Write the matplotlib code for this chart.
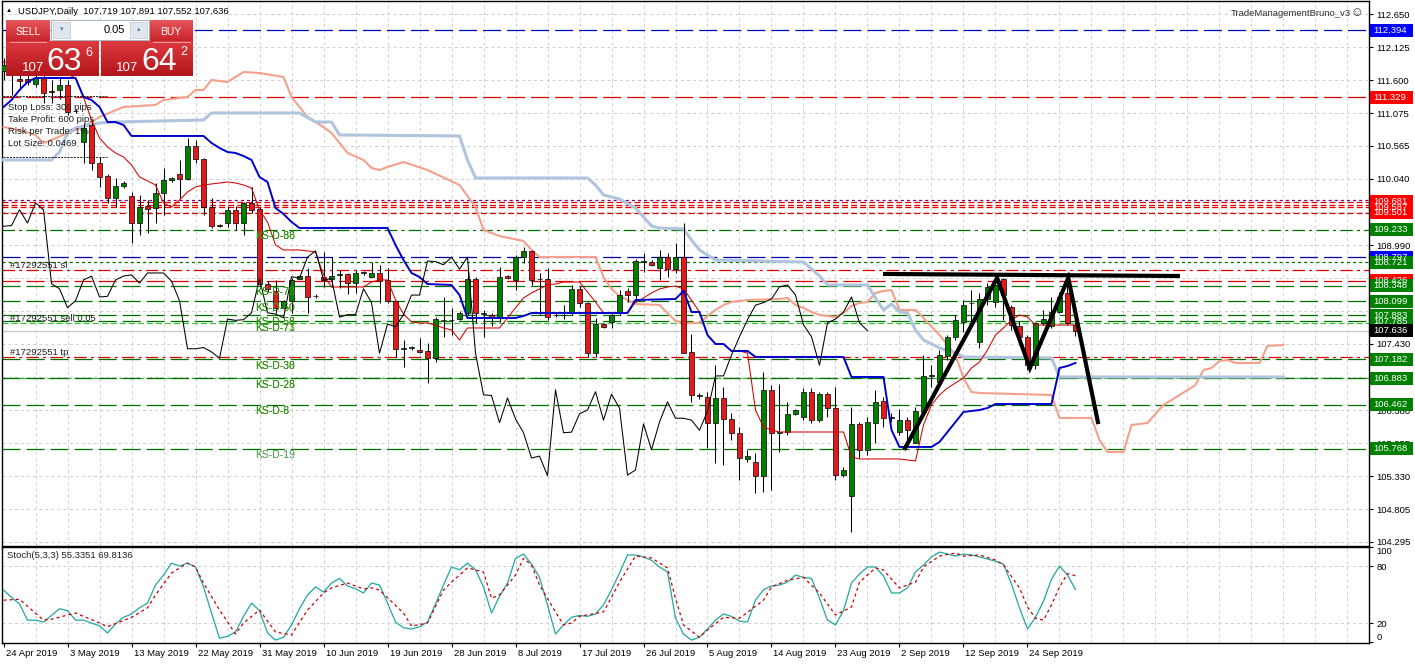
import numpy as np
import matplotlib
matplotlib.use('Agg')
import matplotlib.pyplot as plt
import matplotlib.transforms as mtransforms
from matplotlib.patches import Rectangle
from matplotlib.colors import LinearSegmentedColormap

plt.rcParams['font.family'] = ['Liberation Sans', 'DejaVu Sans']
plt.rcParams['lines.scale_dashes'] = False

# ---- daily candles, one per bar (bar 0 = 24 Apr 2019) ----
opens = [111.75, 111.85, 111.62, 111.62, 111.54, 111.64, 111.43, 111.45, 111.53, 111.12,
         110.62, 110.89, 110.29, 110.09, 109.74, 109.93, 109.77, 109.34, 109.61, 109.58,
         109.82, 110.02, 110.12, 110.04, 110.56, 110.36, 109.60, 109.31, 109.34, 109.55,
         109.34, 109.66, 109.56, 108.38, 108.27, 108.00, 108.11, 108.46, 108.50, 108.19,
         108.49, 108.45, 108.52, 108.53, 108.39, 108.55, 108.49, 108.55, 108.44, 108.11,
         107.35, 107.36, 107.33, 107.32, 107.20, 107.81, 107.80, 107.82, 107.92, 108.46,
         107.90, 107.89, 107.84, 108.50, 108.44, 108.80, 108.90, 108.45, 108.46, 107.88,
         107.88, 107.92, 108.30, 108.08, 107.28, 107.74, 107.77, 107.92, 108.27, 108.20,
         108.72, 108.72, 108.63, 108.80, 108.61, 108.80, 107.30, 106.60, 106.59, 106.18,
         106.57, 106.24, 106.02, 105.60, 105.56, 105.34, 106.70, 106.02, 106.03, 106.32,
         106.27, 106.67, 106.22, 106.63, 106.41, 105.35, 105.02, 106.16, 105.75, 106.18,
         106.52, 106.26, 106.03, 106.22, 105.86, 106.35, 106.92, 106.82, 107.24, 107.54,
         107.77, 108.07, 107.46, 108.14, 108.09, 108.46, 108.01, 107.71, 107.54, 107.09,
         107.76, 107.71, 107.93, 108.23, 107.719]
highs = [111.95, 111.95, 111.75, 111.75, 111.75, 111.70, 111.61, 111.64, 111.61, 111.15,
         110.93, 110.97, 110.39, 110.11, 110.05, 110.00, 109.83, 109.79, 109.71, 109.98,
         110.21, 110.07, 110.34, 110.69, 110.66, 110.37, 109.74, 109.33, 109.61, 109.61,
         109.67, 109.91, 109.60, 108.42, 108.44, 108.12, 108.47, 108.52, 108.63, 108.22,
         108.88, 108.80, 108.60, 108.55, 108.60, 108.58, 108.72, 108.68, 108.63, 108.12,
         107.49, 107.40, 107.52, 107.44, 107.85, 108.17, 107.99, 107.95, 108.60, 108.49,
         107.96, 107.92, 108.65, 108.52, 108.84, 108.96, 108.91, 108.55, 108.63, 107.91,
         108.04, 108.36, 108.35, 108.09, 107.84, 107.76, 107.92, 108.28, 108.31, 108.77,
         108.87, 108.75, 108.91, 108.87, 109.02, 109.34, 107.58, 106.65, 106.67, 107.09,
         106.75, 106.33, 106.11, 105.74, 105.70, 106.98, 106.78, 106.79, 106.51, 106.40,
         106.73, 106.73, 106.67, 106.67, 106.75, 105.48, 106.43, 106.19, 106.27, 106.70,
         106.59, 106.33, 106.40, 106.27, 106.43, 107.25, 107.09, 107.33, 107.57, 107.88,
         108.12, 108.28, 108.23, 108.39, 108.47, 108.47, 108.04, 107.79, 107.57, 107.77,
         107.96, 108.17, 108.25, 108.39, 107.891]
lows = [111.60, 111.37, 111.45, 111.52, 111.50, 111.24, 111.24, 111.30, 111.05, 111.08,
        110.29, 110.18, 109.91, 109.66, 109.59, 109.90, 109.03, 109.15, 109.18, 109.34,
        109.47, 109.99, 109.74, 110.02, 110.29, 109.47, 109.26, 109.28, 109.28, 109.23,
        109.15, 109.50, 108.33, 108.25, 107.92, 107.96, 107.92, 108.45, 107.92, 108.15,
        108.33, 108.33, 108.31, 108.22, 108.24, 108.52, 108.49, 108.07, 108.07, 107.22,
        107.06, 107.33, 107.28, 106.81, 107.14, 107.54, 107.57, 107.80, 107.89, 107.76,
        107.54, 107.71, 107.77, 108.45, 108.28, 108.71, 108.36, 107.89, 107.81, 107.86,
        107.82, 107.89, 108.01, 107.22, 107.22, 107.68, 107.68, 107.89, 108.09, 108.09,
        108.56, 108.66, 108.44, 108.48, 108.55, 107.28, 106.51, 106.56, 105.78, 105.54,
        105.51, 105.91, 105.27, 105.56, 105.07, 105.08, 105.11, 105.72, 105.99, 106.30,
        106.22, 106.18, 106.19, 106.27, 105.27, 105.32, 104.45, 105.62, 105.67, 105.86,
        106.11, 106.19, 105.99, 105.87, 105.86, 106.33, 106.74, 106.78, 107.17, 107.49,
        107.62, 107.73, 107.36, 108.05, 108.01, 107.81, 107.65, 107.49, 107.01, 107.03,
        107.73, 107.68, 107.92, 107.73, 107.552]
closes = [111.85, 111.72, 111.59, 111.57, 111.64, 111.40, 111.42, 111.53, 111.10, 111.11,
          110.85, 110.29, 110.07, 109.74, 109.93, 109.98, 109.34, 109.60, 109.56, 109.82,
          110.02, 110.05, 110.04, 110.56, 110.36, 109.60, 109.29, 109.30, 109.55, 109.34,
          109.66, 109.55, 108.38, 108.30, 108.00, 108.11, 108.44, 108.50, 108.17, 108.18,
          108.44, 108.50, 108.52, 108.39, 108.55, 108.55, 108.55, 108.42, 108.11, 107.35,
          107.35, 107.37, 107.30, 107.20, 107.82, 107.80, 107.81, 107.92, 108.46, 107.92,
          107.90, 107.84, 108.49, 108.47, 108.80, 108.90, 108.44, 108.46, 107.85, 107.89,
          107.89, 108.30, 108.08, 107.28, 107.74, 107.70, 107.89, 108.20, 108.20, 108.74,
          108.73, 108.68, 108.80, 108.61, 108.80, 107.28, 106.62, 106.61, 106.18, 106.57,
          106.24, 106.02, 105.62, 105.65, 105.34, 106.70, 106.02, 106.03, 106.32, 106.38,
          106.67, 106.22, 106.63, 106.41, 105.35, 105.43, 106.16, 105.75, 106.19, 106.51,
          106.25, 106.25, 106.22, 106.06, 106.36, 106.92, 106.92, 107.25, 107.54, 107.81,
          108.04, 108.08, 108.14, 108.33, 108.36, 108.20, 107.73, 107.54, 107.09, 107.76,
          107.82, 107.93, 108.17, 107.76, 107.636]

# ---- ichimoku ----
tenkan = [111.890, 111.890, 111.890, 111.859, 111.827, 111.795, 111.764, 111.732, 111.700, 111.637,
          111.336, 110.972, 110.687, 110.545, 110.450, 110.386, 110.260, 110.070, 110.006, 109.943,
          109.658, 109.595, 109.705, 109.832, 109.911, 109.943, 109.959, 109.975, 109.990, 109.975,
          109.943, 109.895, 109.547, 109.357, 108.993, 108.914, 108.914, 108.914, 108.898, 108.882,
          108.518, 108.328, 108.328, 108.328, 108.328, 108.328, 108.407, 108.439, 108.439, 108.122,
          107.900, 107.774, 107.758, 107.758, 107.726, 107.679, 107.647, 107.489, 107.679, 107.679,
          107.679, 107.679, 107.679, 107.837, 107.995, 108.154, 108.233, 108.296, 108.360, 108.375,
          108.407, 108.407, 108.407, 108.249, 108.090, 107.916, 107.916, 107.916, 107.916, 108.090,
          108.154, 108.233, 108.296, 108.328, 108.344, 108.296, 108.122, 107.932, 107.568, 107.425,
          107.425, 107.315, 107.315, 107.283, 106.380, 106.111, 106.064, 106.032, 106.032, 106.032,
          106.032, 106.032, 106.032, 106.032, 106.032, 106.032, 105.636, 105.605, 105.605, 105.605,
          105.605, 105.605, 105.605, 105.589, 105.573, 106.143, 106.460, 106.618, 106.729, 106.808,
          106.887, 107.045, 107.140, 107.330, 107.568, 107.679, 107.805, 107.885, 107.853, 107.726,
          107.726, 107.726, 107.726, 107.726, 107.726]
kijun_bar = [0, 1, 2, 3, 4, 9, 10, 11, 12, 13, 14, 15, 16, 25, 26, 27, 28, 29, 30, 31, 32, 33, 34, 35, 36,
             37, 48, 49, 50, 51, 52, 53, 56, 57, 58, 64, 65, 66, 78, 79, 84, 85, 86, 87, 88, 89, 90, 91,
             93, 94, 105, 106, 110, 111, 112, 116, 117, 118, 119, 120, 121, 122, 123, 124, 131, 132, 133, 134]
kijun = [111.178, 111.289, 111.447, 111.574, 111.637, 111.637, 111.336, 111.289, 111.178, 110.940,
         110.940, 110.893, 110.719, 110.719, 110.608, 110.529, 110.465, 110.450, 110.402, 110.339,
         110.070, 109.990, 109.579, 109.484, 109.357, 109.262, 109.262, 108.993, 108.755, 108.550,
         108.486, 108.375, 108.360, 108.201, 107.837, 107.837, 107.869, 107.916, 107.916, 108.122,
         108.138, 108.265, 107.932, 107.932, 107.568, 107.425, 107.425, 107.315, 107.315, 107.220,
         107.220, 106.903, 106.903, 106.064, 105.795, 105.795, 105.874, 106.032, 106.190, 106.349,
         106.365, 106.380, 106.412, 106.475, 106.475, 107.045, 107.077, 107.125]
span_a_bar = [0, 2, 4, 5, 6, 8, 10, 12, 15, 19, 20, 23, 24, 25, 26, 28, 30, 32, 35, 36, 37, 38, 40, 41, 43,
              45, 46, 47, 48, 50, 53, 57, 59, 60, 62, 65, 66, 67, 74, 75, 76, 77, 78, 79, 82, 83, 84, 85,
              87, 88, 89, 90, 91, 93, 97, 98, 99, 100, 101, 102, 104, 105, 106, 107, 108, 109, 110, 111,
              112, 114, 115, 117, 119, 120, 121, 122, 131, 132, 136, 137, 138, 140, 141, 143, 145, 147,
              149, 150, 151, 152, 153, 154, 157, 158, 160]
span_a = [110.861, 110.814, 110.735, 110.608, 110.655, 110.766, 110.861, 111.020, 111.178, 111.210,
          111.289, 111.336, 111.447, 111.447, 111.605, 111.574, 111.732, 111.716, 111.653, 111.336,
          111.178, 111.020, 110.861, 110.766, 110.450, 110.339, 110.212, 110.180, 110.228, 110.307,
          110.180, 109.943, 109.595, 109.230, 109.135, 109.056, 108.914, 108.803, 108.803, 108.486,
          108.296, 108.185, 108.122, 108.059, 108.043, 107.916, 107.790, 107.758, 107.758, 107.869,
          107.964, 108.043, 108.090, 108.122, 108.138, 108.154, 108.043, 107.995, 107.932, 107.885,
          107.853, 107.916, 108.027, 108.075, 108.090, 108.233, 108.265, 108.280, 107.964, 107.964,
          107.837, 107.568, 107.251, 106.887, 106.665, 106.649, 106.618, 106.254, 106.254, 105.905,
          105.715, 105.715, 106.143, 106.175, 106.460, 106.618, 106.776, 107.014, 107.045, 107.156,
          107.172, 107.125, 107.125, 107.394, 107.410]
span_b_bar = [0, 6, 7, 8, 9, 12, 14, 25, 26, 37, 39, 41, 42, 57, 58, 59, 73, 74, 75, 77, 79, 81, 82, 85,
              86, 87, 89, 100, 102, 103, 108, 109, 110, 111, 112, 113, 114, 115, 117, 119, 120, 131, 132, 160]
span_b = [110.339, 110.339, 110.465, 110.766, 110.845, 110.925, 110.940, 110.972, 111.083, 111.083,
          110.940, 110.940, 110.735, 110.719, 110.339, 110.054, 110.054, 109.943, 109.785, 109.721,
          109.579, 109.294, 109.262, 109.246, 109.072, 108.914, 108.755, 108.724, 108.502, 108.360,
          108.360, 108.154, 107.964, 108.059, 107.932, 107.916, 107.647, 107.489, 107.362, 107.282,
          107.220, 107.204, 106.903, 106.903]
chikou_shift = 26

# ---- drawn pattern (W + neckline) ----
w_bar = [112.7, 124.2, 128.3, 133.1, 136.8]
w_price = [105.779, 108.470, 107.045, 108.470, 106.190]
neck_bar = [110.2, 146.8]
neck_price = [108.534, 108.502]

# ---- horizontal levels ----
hl_price = [112.394, 111.329, 109.700, 109.681, 109.620, 109.587, 109.501, 109.233, 108.797, 108.721,
            108.600, 108.426, 108.348, 108.099, 107.883, 107.785, 107.760, 107.636, 107.220, 107.182,
            106.883, 106.883, 106.462, 105.768]
hl_color = ['#0000b0', '#dd0000', '#800080', '#dd0000', '#dd0000', '#dd0000', '#dd0000', '#007000',
            '#0000b0', '#007000', '#dd0000', '#dd0000', '#007000', '#007000', '#007000', '#007000',
            '#40c040', '#c8c8c8', '#dd0000', '#007000', '#40c040', '#007000', '#007000', '#007000']
hl_style = ['dash', 'dash', 'dot', 'short', 'short', 'short', 'short', 'dashdot', 'dash', 'dot',
            'dashdot', 'dash', 'dash', 'dash', 'dash', 'dash', 'short', 'solid', 'dashdot', 'dash',
            'short', 'dash', 'dash', 'dash']
lab_price = [112.394, 111.329, 109.501, 109.587, 109.681, 109.233, 108.797, 108.721, 108.426, 108.348,
             108.099, 107.883, 107.785, 107.636, 107.182, 106.883, 106.462, 105.768]
lab_color = ['#0000ff', '#ff0000', '#ff0000', '#ff0000', '#ff0000', '#008000', '#0000ff', '#008000',
             '#ff0000', '#008000', '#008000', '#008000', '#008000', '#000000', '#008000', '#008000',
             '#008000', '#008000']
price_ticks = [112.650, 112.125, 111.600, 111.075, 110.565, 110.040, 109.515, 108.990, 108.465,
               107.940, 107.430, 106.905, 106.380, 105.855, 105.330, 104.805, 104.295]
hidden_ticks = [109.515, 108.465, 107.940, 106.905]   # fully covered by level labels
ks_level = [109.233, 108.348, 108.099, 107.883, 107.785, 107.182, 106.883, 106.462, 105.768]
ks_back = ['KS-D-86', 'KS-D-73', 'KS-D-60', 'KS-D-56', 'KS-D-73', 'KS-D-30', 'KS-D-25', 'KS-D-6', 'KS-D-19']
ks_front = ['KS-D-88', 'KS-D-75', 'KS-D-50', 'KS-D-58', 'KS-D-71', 'KS-D-38', 'KS-D-28', 'KS-D-8', 'KS-D-19']
order_level = [108.600, 107.760, 107.220]
order_text = ['#17292551 sl', '#17292551 sell 0.05', '#17292551 tp']

# ---- stochastic ----
stoch_k = [54.7, 47, 40, 23, 23, 21, 28, 35, 33, 23,
           23, 20, 17, 9.5, 19, 26, 29.5, 36, 41, 60,
           70.5, 83, 80, 83, 79, 58, 30.5, 4, 6, 10.5,
           27, 41, 33, 9.5, 2, 5, 18, 35, 49.5, 58,
           52.6, 62, 67, 59, 56, 51.6, 62, 60, 41, 21,
           15, 13.7, 16, 21, 40, 60, 79, 76, 83, 76,
           58, 30.5, 48, 62, 88, 92.6, 82, 68, 39, 8.4,
           18, 26, 28, 27, 29.5, 39, 55, 72.6, 91.6, 91.6,
           89.5, 86, 79, 73.7, 25, 8.4, 2, 5, 13.7, 23,
           29.5, 27, 22, 21, 44, 55, 59, 60, 63, 70.5,
           68, 67, 46, 23, 18, 33, 62, 71.6, 79, 79,
           69.5, 51.6, 51.6, 57, 73.7, 81, 89.5, 94.7, 92.6, 90.5,
           92.6, 91.6, 89.5, 87.4, 85, 82, 61, 36, 13.7, 26,
           43, 66, 80, 70.5, 55.3351]
stoch_d_bar = [0, 2, 5, 6, 9, 12, 13, 16, 18, 19, 21, 23, 24, 25, 27, 29, 30, 32, 34, 36, 38, 40, 41, 43,
               45, 46, 47, 50, 51, 53, 55, 56, 58, 60, 61, 62, 64, 65, 66, 67, 69, 70, 71, 72, 75, 77, 79,
               81, 83, 84, 85, 87, 88, 90, 92, 95, 96, 98, 100, 102, 104, 106, 107, 109, 110, 112, 114,
               115, 117, 119, 120, 122, 124, 125, 127, 128, 129, 130, 131, 132, 133, 134]
stoch_d = [44, 45, 23, 24, 30.5, 20, 16, 26, 36, 49.5, 72.6, 83, 79, 62, 33.7, 8.4, 20, 33.7, 10.5, 7.4,
           33.7, 51.6, 57, 62, 55.8, 57, 54.7, 30.5, 16.8, 20, 54.7, 63, 78, 73.7, 46, 49.5, 70.5, 88,
           81, 60, 31.6, 18, 20, 27, 31.6, 63, 90.5, 88.4, 78, 46, 18, 5, 12.6, 26, 25, 44, 58, 65, 68,
           51.6, 28.4, 36.8, 63, 78, 75.8, 56.8, 63, 79, 90.5, 93.7, 90.5, 91.6, 86.3, 81, 57, 36.8, 25,
           23, 39, 58, 72, 69.8136]
date_labels = ['24 Apr 2019', '3 May 2019', '13 May 2019', '22 May 2019', '31 May 2019', '10 Jun 2019',
               '19 Jun 2019', '28 Jun 2019', '8 Jul 2019', '17 Jul 2019', '26 Jul 2019', '5 Aug 2019',
               '14 Aug 2019', '23 Aug 2019', '2 Sep 2019', '12 Sep 2019', '24 Sep 2019']

LS = {'dash': (0, (13, 4.3)), 'short': (0, (4.3, 2.2)), 'dot': (0, (2.2, 2.2)),
      'dashdot': (0, (9, 3, 2.2, 3)), 'solid': '-'}
GRID = dict(color='#c8c8c8', lw=0.6, ls=(0, (2.2, 2.2)), zorder=0.5)
FS = 6.8

W, H = 1415, 664
fig = plt.figure(figsize=(W / 100, H / 100), dpi=100)


def px_box(x0, y0, x1, y1):
    return [x0 / W, 1 - y1 / H, (x1 - x0) / W, (y1 - y0) / H]


ax = fig.add_axes(px_box(2, 1, 1369, 546))
axs = fig.add_axes(px_box(2, 547, 1369, 643))
ax_w_px = 1367.0

bars = np.arange(len(closes))
o, h, l, c = (np.array(v) for v in (opens, highs, lows, closes))
ax.set_xlim(-0.19, 170.69)
ax.set_ylim(104.227, 112.856)
ppx = (112.856 - 104.227) / 545.0  # price per pixel

# grid
for p in price_ticks:
    ax.axhline(p, **GRID)
for gx in range(4, 171, 4):
    ax.axvline(gx, **GRID)
    axs.axvline(gx, **GRID)
for gy in (20, 80):
    axs.axhline(gy, **GRID)

# levels
for p, col, st in zip(hl_price, hl_color, hl_style):
    ax.axhline(p, color=col, lw=0.9, ls=LS[st], zorder=2)

# ichimoku cloud lines
ax.plot(span_a_bar, span_a, color='#f4a08c', lw=1.5, zorder=3)
ax.plot(span_b_bar, span_b, color='#b0c4de', lw=2.2, zorder=3)

# candles
up = c >= o
ax.vlines(bars, l, h, color='black', lw=0.75, zorder=4)
lo = np.minimum(o, c)
ht = np.maximum(np.abs(c - o), 0.012)
ax.bar(bars[up], ht[up], bottom=lo[up], width=0.68, color='#008000', edgecolor='black', lw=0.5, zorder=4.5)
ax.bar(bars[~up], ht[~up], bottom=lo[~up], width=0.68, color='#e41a1a', edgecolor='black', lw=0.5, zorder=4.5)

ax.plot(bars, tenkan, color='#d40000', lw=0.75, zorder=5)
ax.plot(kijun_bar, kijun, color='#0000cc', lw=1.4, zorder=5)
ax.plot(bars[:-chikou_shift], c[chikou_shift:], color='black', lw=0.75, zorder=5)

# pattern drawn by the trader
ax.plot(w_bar, w_price, color='black', lw=3.0, solid_joinstyle='miter', zorder=6)
ax.plot(neck_bar, neck_price, color='black', lw=3.0, zorder=6)

# texts on levels
tr = mtransforms.blended_transform_factory(ax.transAxes, ax.transData)
for p, s in zip(order_level, order_text):
    ax.text(8 / ax_w_px, p, s, transform=tr, fontsize=FS, color='#202020', va='bottom', zorder=6)
for p, s1, s2 in zip(ks_level, ks_back, ks_front):
    col1, col2 = ('#3c9c3c', '#3c9c3c') if s1 == s2 else ('#86a010', '#1b931b')
    ax.text(253 / ax_w_px, p - 1.5 * ppx, s1, transform=tr, fontsize=7.5, color=col1, va='top', zorder=6)
    if s2 != s1:
        ax.text(253 / ax_w_px, p - 1.5 * ppx, s2, transform=tr, fontsize=7.5, color=col2, va='top', zorder=6)

# price axis
ax.set_xticks([])
ax.set_yticks(price_ticks)
ax.set_yticklabels(['' if p in hidden_ticks else '%.3f' % p for p in price_ticks])
ax.yaxis.tick_right()
ax.tick_params(axis='y', direction='out', length=3, width=0.8, labelsize=FS, pad=2.2)
for sp in ax.spines.values():
    sp.set_linewidth(1.0)

bw = 43 / ax_w_px
bh = 13 * ppx
for p, col in zip(lab_price, lab_color):
    ax.add_patch(Rectangle((1.0 + 1 / ax_w_px, p - bh / 2), bw, bh, transform=tr, facecolor=col,
                           edgecolor='none', clip_on=False, zorder=8))
    ax.text(1.0 + 4 / ax_w_px, p, '%.3f' % p, transform=tr, color='white', fontsize=FS,
            va='center', ha='left', clip_on=False, zorder=9)

# stochastic panel
axs.set_xlim(-0.19, 170.69)
axs.set_ylim(-1.05, 100.0)
axs.plot(bars, stoch_k, color='#20a8a0', lw=0.9, zorder=3)
axs.plot(stoch_d_bar, stoch_d, color='#cc0000', lw=0.9, ls=(0, (2.2, 2.2)), zorder=3)
axs.set_yticks([0, 20, 80, 100])
axs.set_yticklabels(['0', '20', '80', '100'])
axs.yaxis.tick_right()
axs.tick_params(axis='y', direction='out', length=3, width=0.8, labelsize=FS, pad=2.2)
ylbl = axs.get_yticklabels()
ylbl[0].set_va('bottom')
ylbl[3].set_va('top')
axs.set_xticks(np.arange(0, 8 * len(date_labels), 8))
axs.set_xticklabels(date_labels, ha='left')
axs.tick_params(axis='x', direction='out', length=3, width=0.8, labelsize=FS, pad=1)
shift = mtransforms.ScaledTranslation(2 / 100, 0, fig.dpi_scale_trans)
for lb in axs.get_xticklabels():
    lb.set_transform(lb.get_transform() + shift)
for sp in axs.spines.values():
    sp.set_linewidth(1.0)

# ---- overlay (pixel coordinates) for terminal widgets ----
ov = fig.add_axes([0, 0, 1, 1])
ov.patch.set_alpha(0)
ov.axis('off')


def grad(x0, y0, x1, y1, ctop, cbot, z=20):
    cm = LinearSegmentedColormap.from_list('g', [ctop, cbot])
    ov.imshow(np.linspace(0, 1, 40).reshape(-1, 1), extent=(x0, x1, y1, y0), cmap=cm,
              aspect='auto', zorder=z, interpolation='bilinear')


grad(6, 20, 50, 41, '#e5565a', '#c9252b')
grad(150, 20, 193, 41, '#e5565a', '#c9252b')
grad(6, 41, 99, 76, '#dc3a3e', '#b3151b')
grad(101, 41, 193, 76, '#dc3a3e', '#b3151b')
ov.add_patch(Rectangle((51, 20), 98, 20, facecolor='white', edgecolor='#9aa4b0', lw=0.6, zorder=21))
ov.add_patch(Rectangle((53, 22), 17, 16, facecolor='#dfe6ee', edgecolor='#c0c8d0', lw=0.5, zorder=22))
ov.add_patch(Rectangle((130, 22), 17, 16, facecolor='#dfe6ee', edgecolor='#c0c8d0', lw=0.5, zorder=22))
ov.text(61.5, 30, '\u25be', fontsize=5, color='#6080a0', ha='center', va='center', zorder=23)
ov.text(138.5, 30, '\u25b4', fontsize=5, color='#6080a0', ha='center', va='center', zorder=23)
ov.text(125, 30, '0.05', fontsize=8, color='black', ha='right', va='center', zorder=23)
ov.plot([10, 46], [41.5, 41.5], color='#f3b0b0', lw=0.6, zorder=22)
ov.plot([153, 190], [41.5, 41.5], color='#f3b0b0', lw=0.6, zorder=22)
ov.text(28, 35, 'SELL', fontsize=7.5, color='white', ha='center', va='baseline', zorder=23)
ov.text(171, 35, 'BUY', fontsize=7.5, color='white', ha='center', va='baseline', zorder=23)
ov.text(22, 71, '107', fontsize=9.5, color='white', ha='left', va='baseline', zorder=23)
ov.text(46, 70, '63', fontsize=23, color='white', ha='left', va='baseline', zorder=23)
ov.text(85, 56, '6', fontsize=9, color='white', ha='left', va='baseline', zorder=23)
ov.text(116, 71, '107', fontsize=9.5, color='white', ha='left', va='baseline', zorder=23)
ov.text(141, 70, '64', fontsize=23, color='white', ha='left', va='baseline', zorder=23)
ov.text(180, 55, '2', fontsize=9, color='white', ha='left', va='baseline', zorder=23)

ov.text(9, 11, '\u25b2', fontsize=4.5, color='black', ha='center', va='center', zorder=23)
ov.text(18, 11, 'USDJPY,Daily  107.719 107.891 107.552 107.636', fontsize=FS, color='black',
        va='center', zorder=23)
ov.text(1351, 13, 'TradeManagementBruno_v3', fontsize=FS, color='#303030', ha='right', va='center', zorder=23)
ov.text(1357, 13, '\u263a', fontsize=9, color='#303030', ha='center', va='center', zorder=23)

info = ['Stop Loss: 300 pips', 'Take Profit: 600 pips', 'Risk per Trade: 1%', 'Lot Size: 0.0469']
for k, s in enumerate(info):
    ov.text(8, 108 + 11.8 * k, s, fontsize=FS, color='#202020', va='center', zorder=23)
ov.plot([3, 107], [95.5, 95.5], color='black', lw=0.6, ls=(0, (1.5, 0.8)), zorder=22)
ov.plot([3, 107], [156.5, 156.5], color='black', lw=0.6, ls=(0, (1.5, 0.8)), zorder=22)
ov.text(7, 556, 'Stoch(5,3,3) 55.3351 69.8136', fontsize=FS, color='#202020', va='center', zorder=23)

ov.set_xlim(0, W)
ov.set_ylim(H, 0)

fig.savefig('out.png', dpi=100, facecolor='white')
